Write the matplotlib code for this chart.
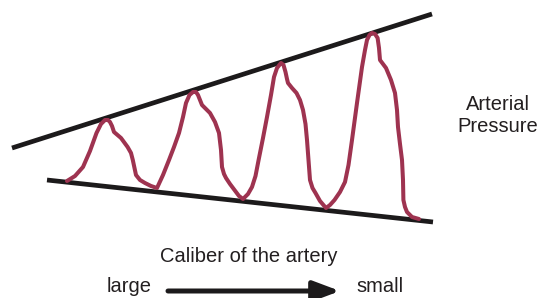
import matplotlib
matplotlib.use("Agg")
import matplotlib.pyplot as plt

# Envelope lines (pixel coords, y down)
upper_x = [12, 432]
upper_y = [148, 14]
lower_x = [47, 433]
lower_y = [180, 222]

# Pressure waveform trace
wave_x = [67, 75, 83, 90, 96.5, 101, 105, 108, 110, 112, 114, 121, 127.6, 131, 132.8, 134.5, 136, 140, 145, 151, 157,
          163, 169, 174, 179, 183, 186, 189.5, 193, 196, 198, 200, 202, 206, 210, 215, 219, 221, 222, 224, 226, 230, 234.5, 239, 243,
          248, 252, 255.5, 258.6, 263, 267, 271, 274, 277, 281, 283.5, 285.5, 287, 288, 292, 296.5, 300, 303, 305.5, 307, 308.5, 310, 312.5, 315.5, 320, 326,
          330, 334.5, 340, 345, 348.5, 352, 357, 362, 365, 367, 369.5, 372, 375, 377.6, 379, 380, 383, 386, 391, 395, 397, 398, 400, 402, 403, 403.4, 405, 407, 412, 419]
wave_y = [181, 176, 167, 151, 133, 124, 120, 120, 122, 126, 132, 138, 147, 153, 160, 168, 175, 180, 183, 186, 188,
          175, 160, 147, 133, 117, 103, 95, 92, 92, 95, 100, 105, 109, 113, 122, 133, 150, 167, 174, 178, 184, 190, 196, 199,
          194, 187, 176, 160, 138, 117, 95, 77, 68, 63, 65, 72, 79, 83, 88, 93, 100, 110, 124, 140, 160, 180, 188, 193, 201, 208,
          205, 200, 192, 182, 165, 140, 103, 67, 50, 40, 35, 33, 34, 38, 48, 60, 64, 68, 80, 93, 110, 127, 144, 160, 180, 200, 207, 212, 217, 219]

labels = {"right": "Arterial\nPressure", "caption": "Caliber of the artery", "left_end": "large", "right_end": "small"}

fig = plt.figure(figsize=(5.4, 2.98), dpi=100)
ax = fig.add_axes([0, 0, 1, 1])
ax.set_xlim(0, 540)
ax.set_ylim(298, 0)
ax.axis("off")

ax.plot(upper_x, upper_y, color="#1c1a1b", lw=3.4, solid_capstyle="butt")
ax.plot(lower_x, lower_y, color="#1c1a1b", lw=3.4, solid_capstyle="butt")
ax.plot(wave_x, wave_y, color="#9e3350", lw=2.9, solid_capstyle="round", solid_joinstyle="round")

font = dict(family=["Liberation Sans", "DejaVu Sans"], color="#231f20")
ax.text(498, 115, labels["right"], ha="center", va="center", fontsize=14.5, linespacing=1.2, **font)
ax.text(249, 257, labels["caption"], ha="center", va="center", fontsize=14.5, **font)
ax.text(129, 287, labels["left_end"], ha="center", va="center", fontsize=14.5, **font)
ax.text(380, 287, labels["right_end"], ha="center", va="center", fontsize=14.5, **font)

ax.annotate("", xy=(340, 291), xytext=(168, 291),
            arrowprops=dict(arrowstyle="-|>,head_length=1.6,head_width=0.6", color="#1c1a1b", lw=3.6,
                            shrinkA=0, shrinkB=0))

fig.savefig("out.png", dpi=100)
